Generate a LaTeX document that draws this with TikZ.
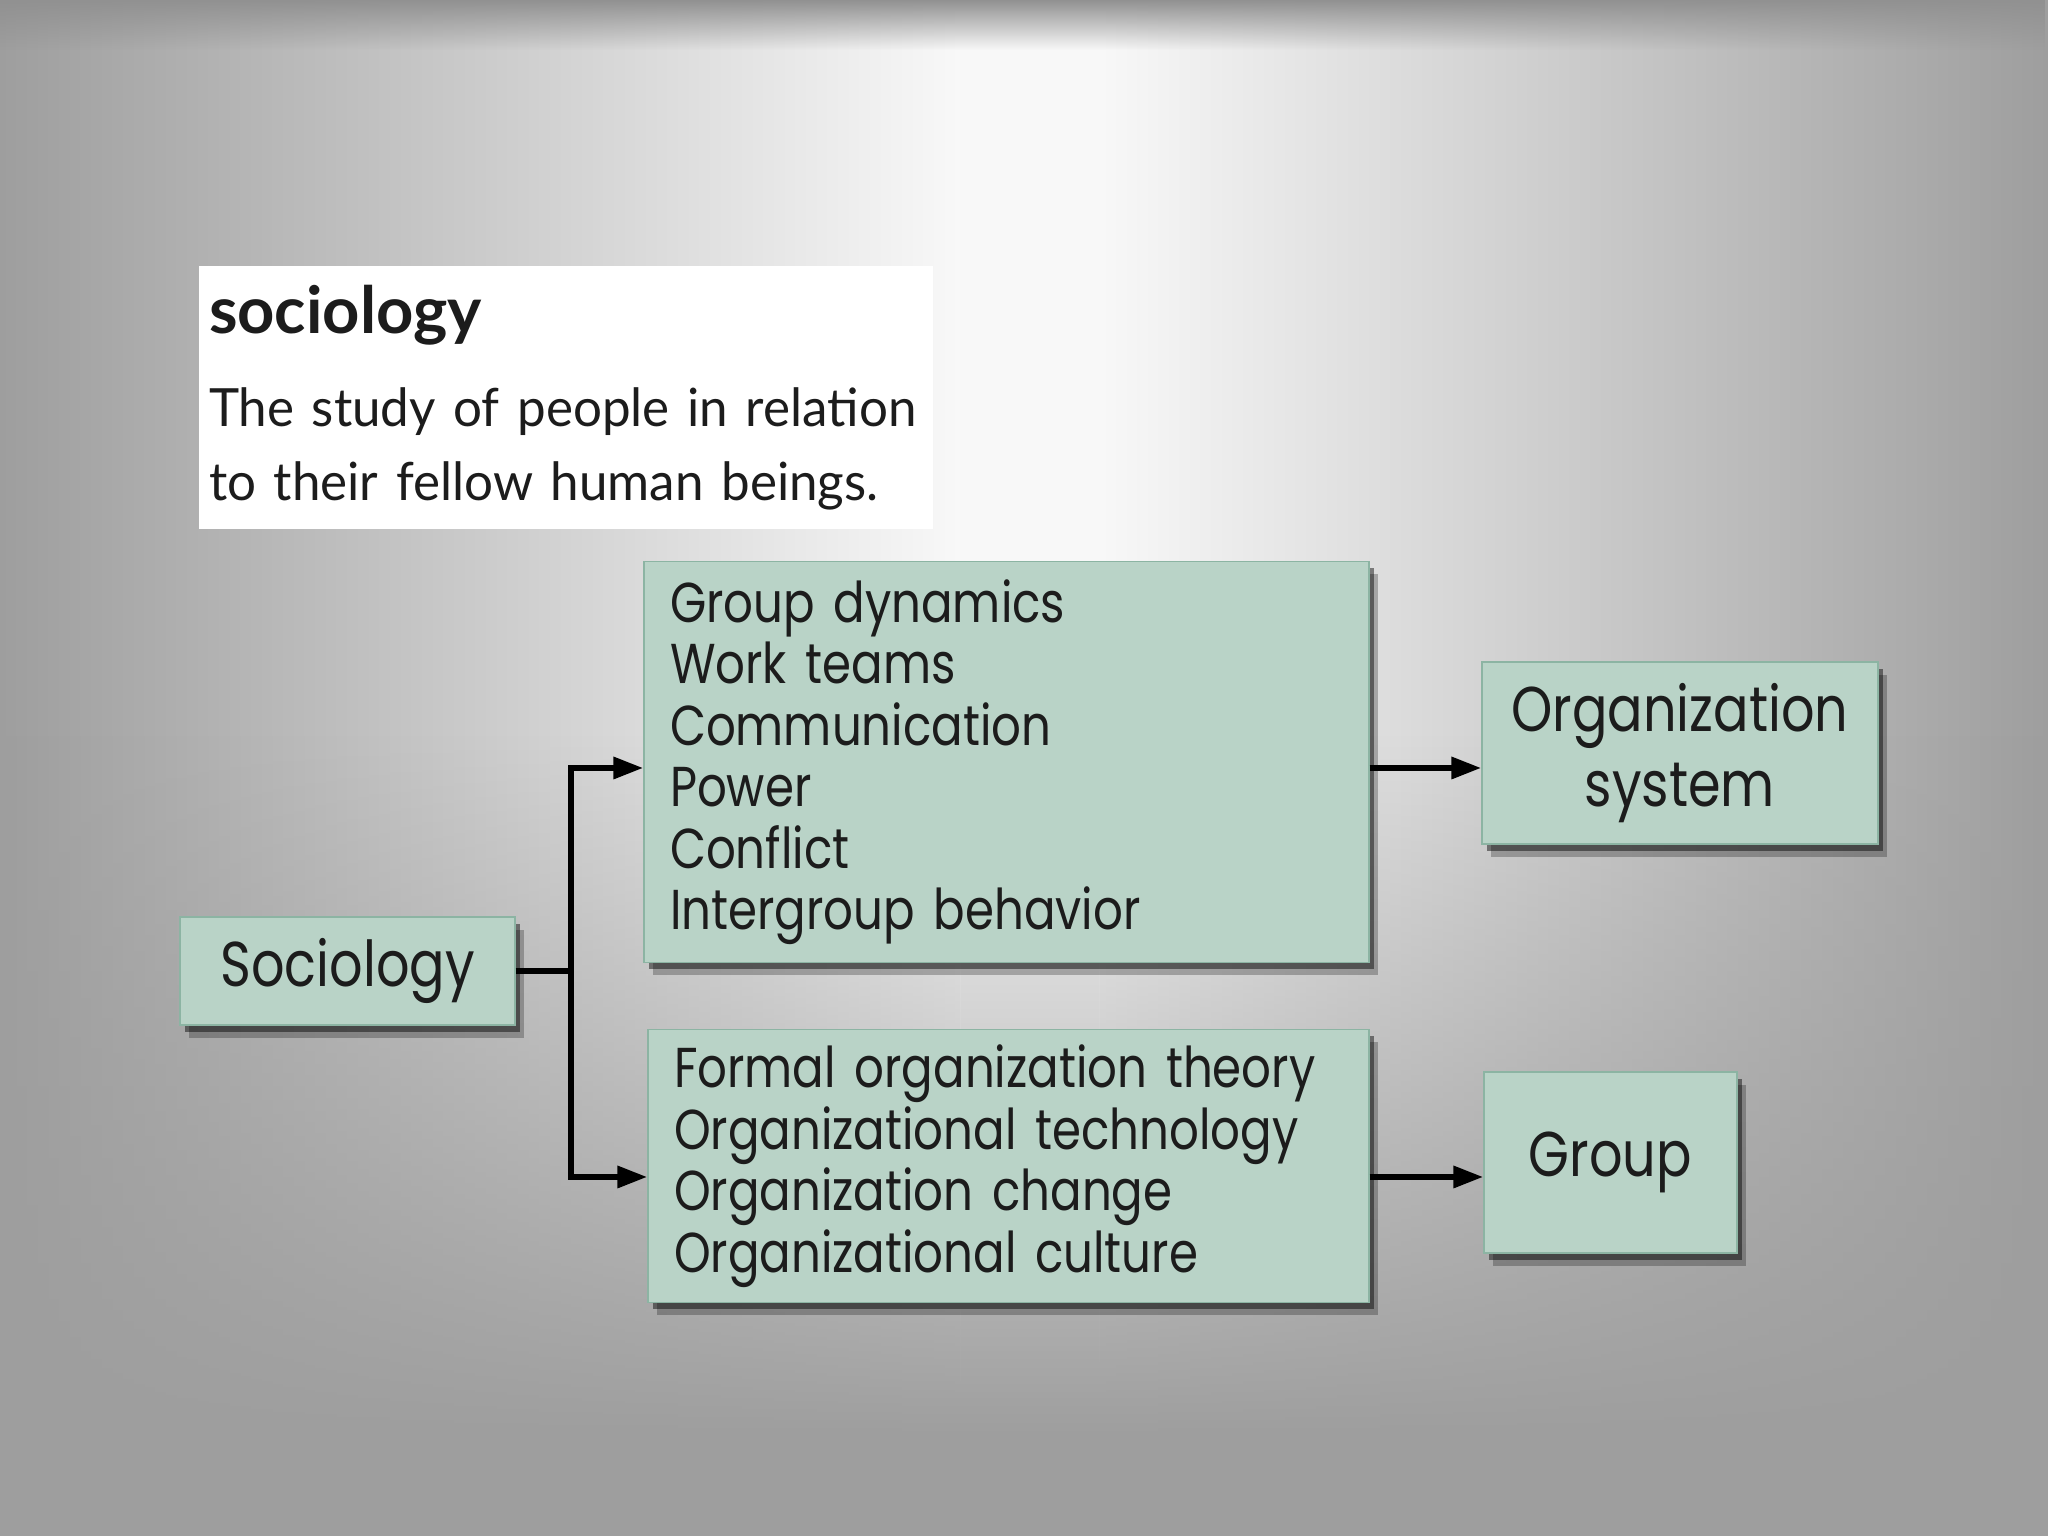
\documentclass[tikz,border=0pt]{standalone}
\usepackage{fontspec}
\setmainfont{Lato}
\newfontfamily\deffont[FakeStretch=0.97]{Lato}
\newfontfamily\termfont{Lato}
\newfontfamily\boxfont[FakeStretch=0.83]{Poppins}
\usepackage{tikz}
\usetikzlibrary{arrows.meta, positioning, shadows, fadings}
\definecolor{slidegray}{RGB}{158,158,158}
\definecolor{glow}{RGB}{248,248,248}
\definecolor{boxfill}{RGB}{185,211,199}
\definecolor{boxedge}{RGB}{140,180,163}
\definecolor{inkdark}{RGB}{28,28,28}
\tikzset{
  topic/.style    = {rectangle, fill=boxfill, draw=boxedge, line width=0.4pt,
                     inner sep=0pt, text=inkdark, align=center,
                     font=\boxfont\fontsize{18}{21.5}\selectfont,
                     drop shadow={shadow xshift=0.09cm, shadow yshift=-0.13cm,
                                  opacity=0.25, fill=black},
                     drop shadow={shadow xshift=0.05cm, shadow yshift=-0.07cm,
                                  opacity=0.45, fill=black}},
  itemlist/.style = {topic, align=left,
                     font=\boxfont\fontsize{16}{17.5}\selectfont},
  defbox/.style   = {rectangle, fill=white, inner sep=0pt, text=inkdark,
                     minimum width=7.34cm, minimum height=2.63cm,
                     text width=7.13cm, align=left,
                     font=\deffont\fontsize{15}{21}\selectfont},
  link/.style     = {line width=1.7pt, draw=black},
  arrow/.style    = {link, -{Triangle[length=8.5pt, width=6pt]}},
  leftglow/.style = {left color=slidegray, right color=glow},
  rightglow/.style= {left color=glow, right color=slidegray},
}
\begin{document}
\begin{tikzpicture}
  \useasboundingbox (0,0) rectangle (20.48,15.36);
  % slide background: light band in the middle, fading out downwards
  \fill[slidegray] (0,0) rectangle (20.48,15.36);
  \shade[leftglow]  (0,8) rectangle (9.6,15.36);
  \fill[glow]       (9.6,8) rectangle (11,15.36);
  \shade[rightglow] (11,8) rectangle (20.48,15.36);
  \shade[leftglow, path fading=south]  (0,1) rectangle (9.6,8);
  \fill[glow, path fading=south]       (9.6,1) rectangle (11,8);
  \shade[rightglow, path fading=south] (11,1) rectangle (20.48,8);
  \fill[slidegray!92!black, path fading=south] (0,14.86) rectangle (20.48,15.36);

  \node[defbox] (defn) at (5.655, 11.385)
    {{\termfont\bfseries\fontsize{18.5}{20}\selectfont sociology}\\[5.6pt]
     The study of people in relation\\ to their fellow human beings.};

  \node[topic, minimum width=3.35cm, minimum height=1.08cm] (soc) at (3.475, 5.65) {Sociology};
  \node[itemlist, minimum width=7.25cm, minimum height=4.01cm, text width=6.73cm]
    (behav) at (10.065, 7.74)
    {Group dynamics\\ Work teams\\ Communication\\ Power\\ Conflict\\ Intergroup behavior};
  \node[itemlist, minimum width=7.21cm, minimum height=2.73cm, text width=6.69cm]
    (struct) at (10.085, 3.70)
    {Formal organization theory\\ Organizational technology\\ Organization change\\ Organizational culture};
  \node[topic, minimum width=3.96cm, minimum height=1.82cm] (orgsys) at (16.8, 7.83)
    {Organization\\ system};
  \node[topic, minimum width=2.53cm, minimum height=1.81cm] (group) at (16.105, 3.735) {Group};

  \coordinate (hi) at (5.71, 7.68);
  \coordinate (lo) at (5.71, 3.59);
  \draw[arrow] (soc.east) -| (hi) -- (hi -| behav.west);
  \draw[arrow] (soc.east -| hi) -- (lo) -- (lo -| struct.west);
  \draw[arrow] (hi -| behav.east) -- (hi -| orgsys.west);
  \draw[arrow] (lo -| struct.east) -- (lo -| group.west);
\end{tikzpicture}
\end{document}
